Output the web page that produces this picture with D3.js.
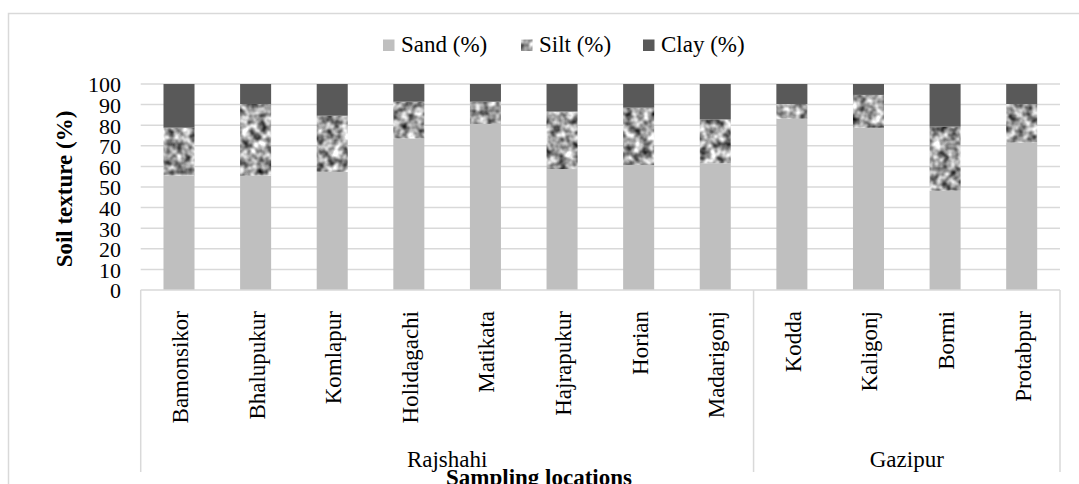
<!DOCTYPE html>
<html>
<head>
<meta charset="utf-8">
<script src="https://cdn.jsdelivr.net/npm/d3@7"></script>
<style>
  body { margin: 0; background: #fff; }
</style>
</head>
<body>
<div id="chart"></div>
<script>
// soil texture per sampling location
var locations = ["Bamonsikor", "Bhalupukur", "Komlapur", "Holidagachi", "Matikata", "Hajrapukur",
    "Horian", "Madarigonj", "Kodda", "Kaligonj", "Bormi", "Protabpur"];
var districts = ["Rajshahi", "Rajshahi", "Rajshahi", "Rajshahi", "Rajshahi", "Rajshahi",
    "Rajshahi", "Rajshahi", "Gazipur", "Gazipur", "Gazipur", "Gazipur"];
var sand = [55.5, 55.5, 57.4, 73.6, 80.6, 58.7, 60.7, 61.5, 83.2, 78.8, 48.2, 71.5];
var silt = [23.3, 34.8, 27.2, 17.8, 10.8, 27.9, 27.8, 21.3, 7.1, 15.9, 31.1, 18.8];
var clay = [21.2, 9.7, 15.4, 8.6, 8.6, 13.4, 11.5, 17.2, 9.7, 5.3, 20.7, 9.7];
var seriesNames = ["Sand (%)", "Silt (%)", "Clay (%)"];
var yTicks = [0, 10, 20, 30, 40, 50, 60, 70, 80, 90, 100];

var svgWidth = 1079;
var svgHeight = 484;
var serif = "'Liberation Serif', 'Times New Roman', Times, serif";

// plot area
var plot = { left: 140.7, right: 1060, top: 84, bottom: 290 };
var gridColor = "#d9d9d9";

var svg = d3.select("#chart")
    .append("svg")
    .attr("width", svgWidth)
    .attr("height", svgHeight)
    .style("font-family", serif);

// noisy grey texture used for silt
var defs = svg.append("defs");
var filt = defs.append("filter")
    .attr("id", "siltTex")
    .attr("x", 0).attr("y", 0).attr("width", 1).attr("height", 1)
    .attr("color-interpolation-filters", "sRGB");
filt.append("feTurbulence")
    .attr("type", "fractalNoise")
    .attr("baseFrequency", 0.12)
    .attr("numOctaves", 2)
    .attr("seed", 7)
    .attr("result", "noise");
filt.append("feColorMatrix")
    .attr("in", "noise")
    .attr("type", "matrix")
    .attr("values", "1.5 0 0 0 -0.13  1.5 0 0 0 -0.13  1.5 0 0 0 -0.13  0 0 0 0 1")
    .attr("result", "grey");
filt.append("feComposite")
    .attr("in", "grey")
    .attr("in2", "SourceGraphic")
    .attr("operator", "in");

var colors = ["#bfbfbf", "#a0a0a0", "#595959"];
var fills = [null, "url(#siltTex)", null];

// outer chart border
svg.append("rect")
    .attr("x", 8.5).attr("y", 13.5)
    .attr("width", 1075).attr("height", 500)
    .attr("fill", "none")
    .attr("stroke", gridColor)
    .attr("stroke-width", 1.5);

var x = d3.scaleBand()
    .domain(locations)
    .range([plot.left, plot.right])
    .paddingInner(0.595)
    .paddingOuter(0.2975);

var y = d3.scaleLinear()
    .domain([0, 100])
    .range([plot.bottom, plot.top]);

// gridlines
svg.append("g")
    .selectAll("line")
    .data(yTicks.filter(d => d > 0))
    .enter()
    .append("line")
    .attr("x1", plot.left).attr("x2", plot.right)
    .attr("y1", d => y(d)).attr("y2", d => y(d))
    .attr("stroke", gridColor)
    .attr("stroke-width", 1.5);

// y axis labels
var yAxis = svg.append("g")
    .attr("transform", "translate(121,0)")
    .call(d3.axisLeft(y).tickValues(yTicks).tickSize(0).tickPadding(0));
yAxis.attr("font-family", null).attr("font-size", null);
yAxis.select(".domain").remove();
yAxis.selectAll("text")
    .style("font-family", serif)
    .style("font-size", "22px")
    .attr("fill", "#000")
    .attr("dy", "0.36em");

// stacked bars
var rows = locations.map(function (loc, i) {
    return { loc: loc, sand: sand[i], silt: silt[i], clay: clay[i] };
});
var stack = d3.stack().keys(["sand", "silt", "clay"]);
var layers = stack(rows);

svg.append("g")
    .selectAll("g")
    .data(layers)
    .enter()
    .append("g")
    .each(function (layer, li) {
        d3.select(this).selectAll("rect")
            .data(layer)
            .enter()
            .append("rect")
            .attr("x", d => x(d.data.loc))
            .attr("width", x.bandwidth())
            .attr("y", d => y(d[1]))
            .attr("height", d => y(d[0]) - y(d[1]))
            .attr("fill", colors[li])
            .attr("filter", fills[li]);
    });

// category axis line and group separators
var axisBottom = 472;
svg.append("line")
    .attr("x1", plot.left).attr("x2", plot.right)
    .attr("y1", plot.bottom).attr("y2", plot.bottom)
    .attr("stroke", gridColor).attr("stroke-width", 1.5);

var groupNames = Array.from(new Set(districts));
var groupSpans = groupNames.map(function (g) {
    var idx = districts.map((d, i) => d === g ? i : -1).filter(i => i >= 0);
    var x0 = x(locations[idx[0]]) - x.step() * x.paddingInner() / 2;
    var x1 = x(locations[idx[idx.length - 1]]) + x.bandwidth() + x.step() * x.paddingInner() / 2;
    return { name: g, x0: x0, x1: x1 };
});
var seps = [plot.left].concat(groupSpans.map(s => s.x1));
seps[seps.length - 1] = plot.right;
svg.append("g")
    .selectAll("line")
    .data(seps)
    .enter()
    .append("line")
    .attr("x1", d => d).attr("x2", d => d)
    .attr("y1", plot.bottom).attr("y2", axisBottom)
    .attr("stroke", gridColor).attr("stroke-width", 1.5);

// category labels (rotated)
svg.append("g")
    .selectAll("text")
    .data(locations)
    .enter()
    .append("text")
    .attr("transform", d => `translate(${x(d) + x.bandwidth() / 2 + 9}, 311) rotate(-90)`)
    .attr("text-anchor", "end")
    .style("font-size", "23px")
    .text(d => d);

// group labels
svg.append("g")
    .selectAll("text")
    .data(groupSpans)
    .enter()
    .append("text")
    .attr("x", d => (d.x0 + d.x1) / 2)
    .attr("y", 467)
    .attr("text-anchor", "middle")
    .style("font-size", "23px")
    .text(d => d.name);

// axis titles
svg.append("text")
    .attr("transform", "translate(72,189) rotate(-90)")
    .attr("text-anchor", "middle")
    .style("font-size", "23px")
    .style("font-weight", "bold")
    .text("Soil texture (%)");

svg.append("text")
    .attr("x", 539)
    .attr("y", 485)
    .attr("text-anchor", "middle")
    .style("font-size", "23px")
    .style("font-weight", "bold")
    .text("Sampling locations");

// legend
var legendX = [383, 521, 643];
var legend = svg.append("g");
seriesNames.forEach(function (name, i) {
    legend.append("rect")
        .attr("x", legendX[i]).attr("y", 39.5)
        .attr("width", 11.5).attr("height", 11.5)
        .attr("fill", colors[i])
        .attr("filter", fills[i]);
    legend.append("text")
        .attr("x", legendX[i] + 18)
        .attr("y", 52)
        .style("font-size", "23px")
        .text(name);
});
</script>
</body>
</html>
